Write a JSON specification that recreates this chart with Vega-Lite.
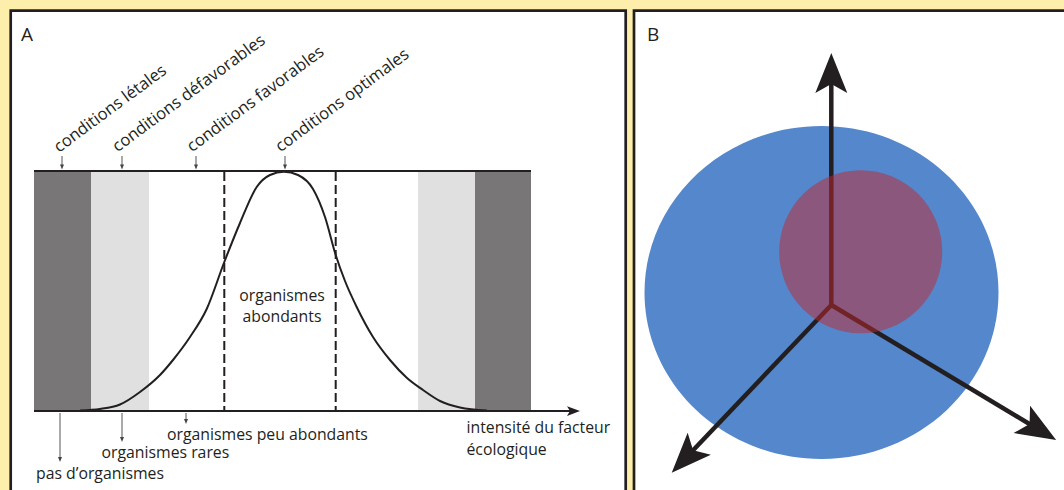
{
  "$schema": "https://vega.github.io/schema/vega-lite/v6.json",
  "width": 1064,
  "height": 490,
  "padding": 0,
  "autosize": {"type": "fit", "contains": "padding"},
  "background": "#fdefab",
  "config": {"view": {"stroke": null}},
  "datasets": {
    "panels": [
      {"x": 10.7, "x2": 625.7, "y": 10.7, "y2": 540},
      {"x": 634, "x2": 1120, "y": 10.7, "y2": 540}
    ],
    "bands": [
      {"x": 34, "x2": 91, "y": 171, "y2": 411, "k": "létal"},
      {"x": 91, "x2": 149, "y": 171, "y2": 411, "k": "défavorable"},
      {"x": 418, "x2": 475, "y": 171, "y2": 411, "k": "défavorable"},
      {"x": 475, "x2": 531, "y": 171, "y2": 411, "k": "létal"}
    ],
    "frame": [
      {"x": 34, "y": 171, "x2": 531, "y2": 171},
      {"x": 34, "y": 411, "x2": 574, "y2": 411}
    ],
    "dashes": [
      {"x": 224.3, "y": 172, "x2": 224.3, "y2": 410},
      {"x": 335.7, "y": 172, "x2": 335.7, "y2": 410}
    ],
    "curve": [
      {"x": 80, "y": 410.5}, {"x": 100, "y": 409}, {"x": 120, "y": 404.5},
      {"x": 140, "y": 392}, {"x": 160, "y": 375}, {"x": 173, "y": 360},
      {"x": 190, "y": 337}, {"x": 206.7, "y": 309}, {"x": 224.3, "y": 262},
      {"x": 240, "y": 223}, {"x": 256.7, "y": 187}, {"x": 270, "y": 175},
      {"x": 284, "y": 171.7}, {"x": 298, "y": 175}, {"x": 313, "y": 189},
      {"x": 325, "y": 217}, {"x": 335.7, "y": 255}, {"x": 345, "y": 281},
      {"x": 356.7, "y": 307}, {"x": 373, "y": 337}, {"x": 390, "y": 360},
      {"x": 407, "y": 378}, {"x": 423, "y": 390}, {"x": 440, "y": 401},
      {"x": 460, "y": 407.5}, {"x": 487, "y": 410.5}
    ],
    "pointers": [
      {"x": 62, "y": 156, "x2": 62, "y2": 167},
      {"x": 122, "y": 156, "x2": 122, "y2": 167},
      {"x": 196, "y": 156, "x2": 196, "y2": 167},
      {"x": 285, "y": 156, "x2": 285, "y2": 167},
      {"x": 60, "y": 413, "x2": 60, "y2": 459.5},
      {"x": 122, "y": 413, "x2": 122, "y2": 439.5},
      {"x": 186, "y": 413, "x2": 186, "y2": 421.5}
    ],
    "pointerHeads": [
      {"x": 62, "y": 167}, {"x": 122, "y": 167}, {"x": 196, "y": 167}, {"x": 285, "y": 167},
      {"x": 60, "y": 459.5}, {"x": 122, "y": 439.5}, {"x": 186, "y": 421.5}
    ],
    "axisHead": [{"x": 573.5, "y": 411}],
    "rotLabels": [
      {"x": 59, "y": 153, "t": "conditions létales"},
      {"x": 117.5, "y": 152.5, "t": "conditions défavorables"},
      {"x": 192, "y": 152.5, "t": "conditions favorables"},
      {"x": 280.5, "y": 152.5, "t": "conditions optimales"}
    ],
    "leftLabels": [
      {"x": 36, "y": 474, "t": "pas d’organismes"},
      {"x": 101.5, "y": 453, "t": "organismes rares"},
      {"x": 167, "y": 435, "t": "organismes peu abondants"},
      {"x": 466.5, "y": 428, "t": "intensité du facteur"},
      {"x": 466.5, "y": 450, "t": "écologique"}
    ],
    "centerLabels": [
      {"x": 282, "y": 296, "t": "organismes"},
      {"x": 282, "y": 317, "t": "abondants"}
    ],
    "panelLabels": [
      {"x": 21, "y": 41, "t": "A"},
      {"x": 647, "y": 41, "t": "B"}
    ],
    "blue": [{"x": 821.5, "y": 292.5}],
    "red": [{"x": 860.7, "y": 251.7}],
    "bLines": [
      {"x": 831.3, "y": 305, "x2": 831.3, "y2": 75},
      {"x": 831.3, "y": 305, "x2": 1039, "y2": 429.7},
      {"x": 831.3, "y": 305, "x2": 685.5, "y2": 458.2}
    ],
    "bHeads": [
      {"x": 831.3, "y": 73, "ang": 0},
      {"x": 1039, "y": 429.7, "ang": 121},
      {"x": 685.5, "y": 458.2, "ang": 223.5}
    ]
  },
  "encoding": {
    "x": {"field": "x", "type": "quantitative", "scale": {"domain": [0, 1064], "nice": false, "zero": false}, "axis": null},
    "y": {"field": "y", "type": "quantitative", "scale": {"domain": [0, 490], "nice": false, "zero": false, "reverse": true}, "axis": null}
  },
  "layer": [
    {
      "data": {"name": "panels"},
      "mark": {"type": "rect", "fill": "#ffffff", "stroke": "#231f20", "strokeWidth": 2.7, "clip": true},
      "encoding": {"x2": {"field": "x2"}, "y2": {"field": "y2"}}
    },
    {
      "data": {"name": "bands"},
      "mark": {"type": "rect"},
      "encoding": {
        "x2": {"field": "x2"}, "y2": {"field": "y2"},
        "color": {"field": "k", "type": "nominal", "scale": {"domain": ["létal", "défavorable"], "range": ["#787676", "#e0e0e0"]}, "legend": null}
      }
    },
    {
      "data": {"name": "dashes"},
      "mark": {"type": "rule", "color": "#231f20", "strokeWidth": 2, "strokeDash": [9, 4]},
      "encoding": {"x2": {"field": "x2"}, "y2": {"field": "y2"}}
    },
    {
      "data": {"name": "frame"},
      "mark": {"type": "rule", "color": "#231f20", "strokeWidth": 2},
      "encoding": {"x2": {"field": "x2"}, "y2": {"field": "y2"}}
    },
    {
      "data": {"name": "axisHead"},
      "mark": {"type": "point", "filled": true, "opacity": 1, "color": "#231f20", "shape": "M1,0L-1,-0.75L-0.55,0L-1,0.75Z", "size": 169}
    },
    {
      "data": {"name": "curve"},
      "mark": {"type": "line", "color": "#231f20", "strokeWidth": 2, "interpolate": "monotone"},
      "encoding": {"order": {"field": "x", "type": "quantitative"}}
    },
    {
      "data": {"name": "pointers"},
      "mark": {"type": "rule", "color": "#555555", "strokeWidth": 1},
      "encoding": {"x2": {"field": "x2"}, "y2": {"field": "y2"}}
    },
    {
      "data": {"name": "pointerHeads"},
      "mark": {"type": "point", "filled": true, "opacity": 1, "color": "#444444", "shape": "M0,1L-0.8,-1L0.8,-1Z", "size": 25}
    },
    {
      "data": {"name": "rotLabels"},
      "mark": {"type": "text", "align": "left", "baseline": "alphabetic", "angle": 323.5, "font": "Open Sans", "fontSize": 16.6, "color": "#231f20"},
      "encoding": {"text": {"field": "t"}}
    },
    {
      "data": {"name": "leftLabels"},
      "mark": {"type": "text", "align": "left", "baseline": "middle", "font": "Open Sans", "fontSize": 15.8, "color": "#231f20"},
      "encoding": {"text": {"field": "t"}}
    },
    {
      "data": {"name": "centerLabels"},
      "mark": {"type": "text", "align": "center", "baseline": "middle", "font": "Open Sans", "fontSize": 15.8, "color": "#231f20"},
      "encoding": {"text": {"field": "t"}}
    },
    {
      "data": {"name": "panelLabels"},
      "mark": {"type": "text", "align": "left", "baseline": "alphabetic", "font": "Open Sans", "fontSize": 19, "color": "#231f20"},
      "encoding": {"text": {"field": "t"}}
    },
    {
      "data": {"name": "blue"},
      "mark": {"type": "point", "filled": true, "opacity": 1, "color": "#5487cc", "shape": "M-1,0A1,0.94,0,1,1,1,0A1,0.94,0,1,1,-1,0Z", "size": 125316}
    },
    {
      "data": {"name": "bLines"},
      "mark": {"type": "rule", "color": "#231f20", "strokeWidth": 4.5},
      "encoding": {"x2": {"field": "x2"}, "y2": {"field": "y2"}}
    },
    {
      "data": {"name": "bHeads"},
      "mark": {"type": "point", "filled": true, "opacity": 1, "color": "#231f20", "shape": "M0,-1L0.8,1L0,0.55L-0.8,1Z", "size": 1600},
      "encoding": {"angle": {"field": "ang", "type": "quantitative", "scale": null}}
    },
    {
      "data": {"name": "red"},
      "mark": {"type": "point", "filled": true, "opacity": 0.5, "color": "#c1272d", "shape": "circle", "size": 26569}
    }
  ]
}
